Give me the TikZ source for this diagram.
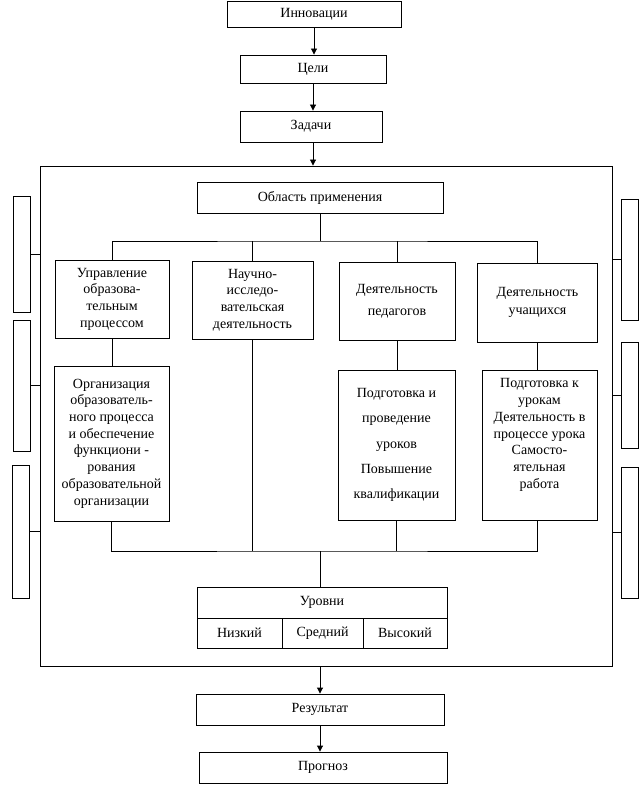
\documentclass[tikz,border=0pt]{standalone}
\usepackage{fontspec}
\setmainfont{Liberation Serif}
\usetikzlibrary{arrows.meta,positioning,calc}

\begin{document}
\begin{tikzpicture}
 [x=1pt,y=-1pt,line width=0.9pt,
  bx/.style 2 args={draw,inner sep=0pt,minimum width=#1pt,minimum height=#2pt,align=center,font=\fontsize{14}{16.7}\selectfont},
  sb/.style={draw,inner sep=0pt,minimum width=17pt,minimum height=#1pt},
  arr/.style={-{Triangle[length=6pt,width=6pt]}}]
 \useasboundingbox (0,0) rectangle (643,794);
 \node[bx={174}{26}] (inn) at (314,14) {Инновации};
 \node[bx={146}{28}] (cel) at (313,69) {Цели};
 \node[bx={142}{31}] (zad) at (311,126.5) {Задачи};
 \node[draw,inner sep=0pt,minimum width=572pt,minimum height=500pt] (frm) at (326,416) {};
 \node[bx={246}{31}] (obl) at (320,197.5) {Область применения};
 \node[bx={114}{78}] (upr) at (112,299) {Управление\\образова-\\тельным\\процессом};
 \node[bx={121}{78}] (nau) at (252.5,300) {Научно-\\исследо-\\вательская\\деятельность};
 \node[bx={116}{78},font=\fontsize{14}{22}\selectfont] (ped) at (397,301) {Деятельность\\педагогов};
 \node[bx={120}{79},font=\fontsize{14}{18}\selectfont] (uch) at (537.5,302.5) {Деятельность\\учащихся};
 \node[bx={115}{155}] (org) at (111.5,443.5) {Организация\\образователь-\\ного процесса\\и обеспечение\\функциони -\\рования\\образовательной\\организации};
 \node[bx={117}{150},font=\fontsize{14}{25.3}\selectfont] (pod) at (396.5,445) {Подготовка и\\проведение\\уроков\\Повышение\\квалификации};
 \node[bx={115}{150}] (pdk) at (539.5,445) {};
 \node[align=center,inner sep=0pt,font=\fontsize{14}{16.7}\selectfont] (pdkt) at ([yshift=10pt]pdk.center) {Подготовка к\\урокам\\Деятельность в\\процессе урока\\Самосто-\\ятельная\\работа};
 \node[bx={250}{31}] (urv) at (322,602.5) {Уровни};
 \node[bx={85}{30}] (niz) at (239.5,633) {Низкий};
 \node[bx={81}{30}] (sre) at (322.5,633) {Средний};
 \node[bx={84}{30}] (vys) at (405,633) {Высокий};
 \node[bx={248}{31}] (res) at (320,709.5) {Результат};
 \node[bx={248}{31}] (prg) at (323,767.5) {Прогноз};
 \node[sb=116] (l1) at (21.5,254) {};
 \node[sb=131] (l2) at (21.5,385.5) {};
 \node[sb=133] (l3) at (20.5,531.5) {};
 \node[sb=121] (r1) at (629.5,259.5) {};
 \node[sb=106] (r2) at (629.5,395) {};
 \node[sb=131] (r3) at (629.5,532.5) {};
 \coordinate (bt) at (320,241);
 \coordinate (bb) at (320,551);
 \draw[arr] (inn.south) -- (inn.south |- cel.north);
 \draw[arr] (cel.south) -- (cel.south |- zad.north);
 \draw[arr] (cel.south |- zad.south) -- (cel.south |- frm.north);
 \draw (obl.south) -- (bt);
 \draw (upr.north) |- (bt) -| (uch.north);
 \draw (nau.north) -- (nau.north |- bt);
 \draw (ped.north) -- (ped.north |- bt);
 \draw (upr.south) -- (upr.south |- org.north);
 \draw (ped.south) -- (ped.south |- pod.north);
 \draw (uch.south) -- (uch.south |- pdk.north);
 \draw (org.south) |- (bb) -| (uch.south |- pdk.south);
 \draw (nau.south) -- (nau.south |- bb);
 \draw (pod.south) -- (pod.south |- bb);
 \draw (bb) -- (bb |- urv.north);
 \draw[arr] (res.north |- frm.south) -- (res.north);
 \draw[arr] (res.south) -- (res.south |- prg.north);
 \foreach \s in {l1,l2,l3} \draw (\s.east) -- (\s.east -| frm.west);
 \foreach \s in {r1,r2,r3} \draw (\s.west) -- (\s.west -| frm.east);
\end{tikzpicture}
\end{document}
